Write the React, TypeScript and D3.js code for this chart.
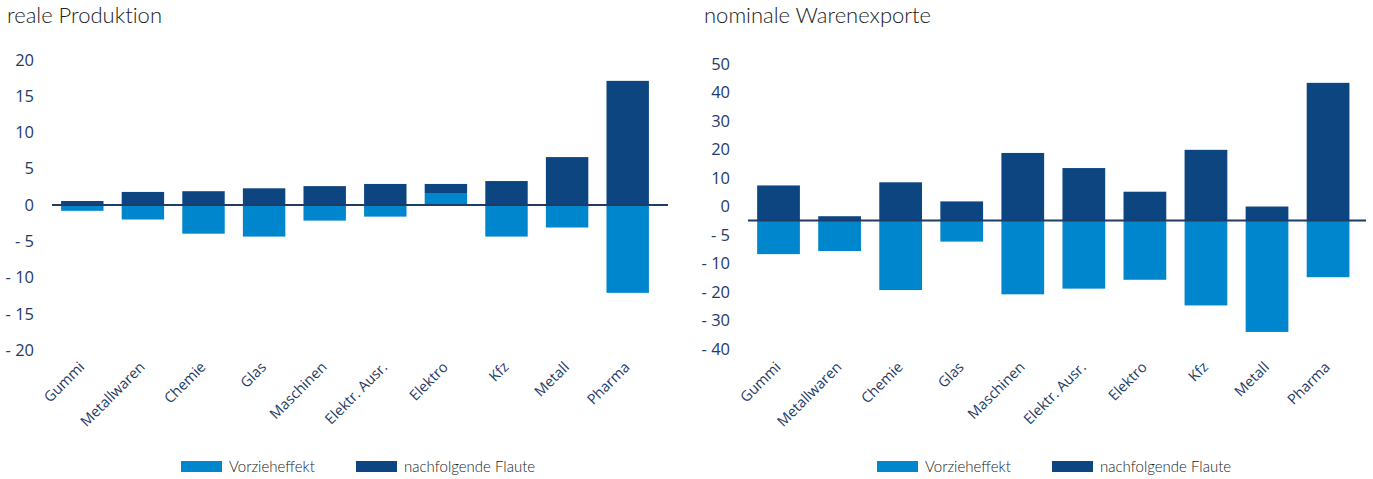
import * as d3 from 'd3';

// categories shared by both panels
const categories = ['Gummi', 'Metallwaren', 'Chemie', 'Glas', 'Maschinen', 'Elektr. Ausr.', 'Elektro', 'Kfz', 'Metall', 'Pharma'];

// reale Produktion
const prodVorzieh = [-0.8, -2.0, -3.95, -4.35, -2.15, -1.6, 1.65, -4.35, -3.1, -12.1];
const prodFlaute = [0.55, 1.8, 1.9, 2.3, 2.6, 2.9, 1.25, 3.3, 6.6, 17.1];
const prodTicks = [20, 15, 10, 5, 0, -5, -10, -15, -20];
const prodTickLabels = ['20', '15', '10', '5', '0', '- 5', '- 10', '- 15', '- 20'];

// nominale Warenexporte (tick labels as printed in the source chart)
const expVorzieh = [-11.8, -10.7, -24.4, -7.4, -25.9, -23.9, -20.8, -29.8, -39.1, -19.9];
const expFlaute = [12.3, 1.5, 13.4, 6.7, 23.7, 18.4, 10.1, 24.8, 4.9, 48.3];
const expTicks = [55, 45, 35, 25, 15, 5, -5, -15, -25, -35, -45];
const expTickLabels = ['50', '40', '30', '20', '10', '0', '- 5', '- 10', '- 20', '- 30', '- 40'];

const seriesNames = ['Vorzieheffekt', 'nachfolgende Flaute'];
const colors = ['#0086cc', '#0c4580'];
const axisColor = '#1f3b66';

type PanelProps = {
  title: string;
  x0: number;
  vorzieh: number[];
  flaute: number[];
  ticks: number[];
  tickLabels: string[];
  yDomain: [number, number];
  yRange: [number, number];
  bandRange: [number, number];
  baseline: [number, number];
  labelX: number;
};

function Panel(p: PanelProps) {
  const rows = categories.map((c, i) => ({ cat: c, v: p.vorzieh[i], f: p.flaute[i] }));
  const stack = d3.stack<any>().keys(['v', 'f']).offset(d3.stackOffsetDiverging)(rows);
  const x = d3.scaleBand().domain(categories).range(p.bandRange).paddingInner(0.3).paddingOuter(0.15);
  const y = d3.scaleLinear().domain(p.yDomain).range(p.yRange);

  return (
    <g>
      <text x={p.x0} y={23} fontFamily="Lato" fontWeight={300} fontSize={22} fill="#222"
        style={{ fontVariantLigatures: 'none' }}>{p.title}</text>
      {p.ticks.map((t, i) => (
        <text key={t} x={p.labelX} y={y(t)} dy="0.35em" textAnchor="end" fontFamily="Open Sans" fontSize={16.5} fill={axisColor}>
          {p.tickLabels[i]}
        </text>
      ))}
      {stack.map((s, si) => (
        <g key={s.key} fill={colors[si]}>
          {s.map((d, i) => (
            <rect key={i} x={x(categories[i])} width={x.bandwidth()}
              y={y(Math.max(d[0], d[1]))} height={Math.abs(y(d[0]) - y(d[1]))} />
          ))}
        </g>
      ))}
      <line x1={p.baseline[0]} x2={p.baseline[1]} y1={y(0)} y2={y(0)} stroke={axisColor} strokeWidth={2} />
      {categories.map(c => (
        <text key={c} transform={`translate(${(x(c) || 0) + x.bandwidth() / 2 + 3},${368}) rotate(-45)`}
          textAnchor="end" fontFamily="Open Sans" fontSize={14.5} fill={axisColor}>
          {c}
        </text>
      ))}
    </g>
  );
}

function Legend({ x0 }: { x0: number }) {
  const offs = [0, 175];
  return (
    <g>
      {seriesNames.map((n, i) => (
        <g key={n} transform={`translate(${x0 + offs[i]},0)`}>
          <rect x={0} y={461} width={41} height={11} fill={colors[i]} />
          <text x={48} y={471.5} fontFamily="Lato" fontWeight={300} fontSize={15} fill="#222">{n}</text>
        </g>
      ))}
    </g>
  );
}

export default function App() {
  return (
    <svg width={1373} height={479} style={{ position: 'absolute', left: 0, top: 0, background: '#fff' }}>
      <Panel title="reale Produktion" x0={7} vorzieh={prodVorzieh} flaute={prodFlaute}
        ticks={prodTicks} tickLabels={prodTickLabels} yDomain={[-20, 20]} yRange={[350.2, 59.8]}
        bandRange={[52, 658]} baseline={[52, 668]} labelX={34} />
      <Panel title="nominale Warenexporte" x0={704} vorzieh={expVorzieh} flaute={expFlaute}
        ticks={expTicks} tickLabels={expTickLabels} yDomain={[-45, 55]} yRange={[348.75, 63.75]}
        bandRange={[748, 1358.6]} baseline={[748, 1366]} labelX={730} />
      <Legend x0={181} />
      <Legend x0={877} />
    </svg>
  );
}
